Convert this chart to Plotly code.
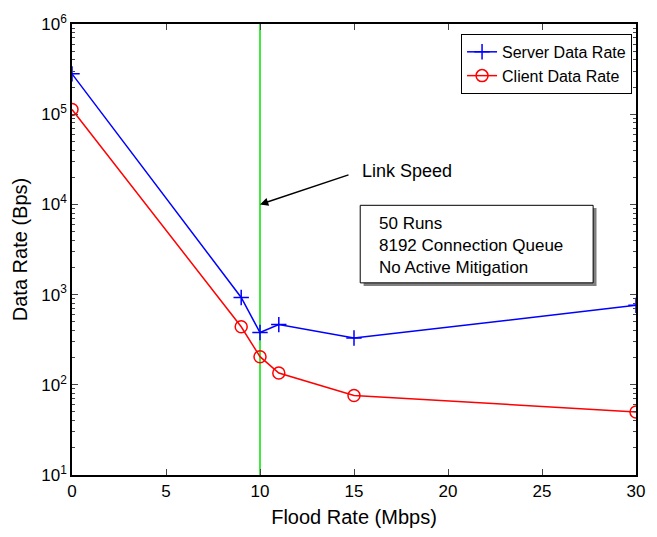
import plotly.graph_objects as go

flood_rate = [0, 9, 10, 11, 15, 30]
server_rate = [280000, 930, 380, 465, 330, 760]
client_rate = [113000, 440, 205, 135, 76, 50]
link_speed = 10
ytick_vals = [10, 100, 1000, 10000, 100000, 1000000]
ytick_text = ["10<sup>1</sup>", "10<sup>2</sup>", "10<sup>3</sup>", "10<sup>4</sup>", "10<sup>5</sup>", "10<sup>6</sup>"]
xtick_vals = [0, 5, 10, 15, 20, 25, 30]
minor_mult = [2, 3, 4, 5, 6, 7, 8, 9]
box_lines = ["50 Runs", "8192 Connection Queue", "No Active Mitigation"]

minor_vals = [m * d for d in ytick_vals[:-1] for m in minor_mult]

FONT = "Liberation Sans, Arial, sans-serif"

fig = go.Figure()
fig.add_trace(go.Scatter(
    x=[link_speed, link_speed], y=[10, 1000000], mode="lines",
    line=dict(color="#00e000", width=1.5), showlegend=False, hoverinfo="skip"))
fig.add_trace(go.Scatter(
    x=flood_rate, y=server_rate, mode="lines+markers", name="Server Data Rate",
    line=dict(color="#0000ff", width=1.5),
    marker=dict(symbol="cross-thin-open", size=11, line=dict(color="#0000ff", width=1.5))))
fig.add_trace(go.Scatter(
    x=flood_rate, y=client_rate, mode="lines+markers", name="Client Data Rate",
    line=dict(color="#ff0000", width=1.5),
    marker=dict(symbol="circle-open", size=12, line=dict(color="#ff0000", width=1.5))))
# invisible trace on overlay axis carrying minor ticks
fig.add_trace(go.Scatter(x=[None], y=[None], yaxis="y2", showlegend=False, hoverinfo="skip"))

# text box with shadow
fig.add_shape(type="rect", xref="paper", yref="paper", x0=0.517, x1=0.930, y0=0.419, y1=0.592,
              fillcolor="#808080", line=dict(width=0), layer="above")
fig.add_shape(type="rect", xref="paper", yref="paper", x0=0.511, x1=0.924, y0=0.426, y1=0.598,
              fillcolor="white", line=dict(color="black", width=1), layer="above")
fig.add_annotation(xref="paper", yref="paper", x=0.541, y=0.508, xanchor="left", yanchor="middle",
                   text="<br>".join(box_lines), showarrow=False, align="left",
                   font=dict(family=FONT, size=17, color="black"))

# link speed arrow and label
fig.add_annotation(x=link_speed, y=4, xref="x", yref="y", text="", showarrow=True,
                   arrowhead=2, arrowsize=1.1, arrowwidth=1.5, arrowcolor="black",
                   ax=90, ay=-30)
fig.add_annotation(x=link_speed, y=4, xref="x", yref="y", text="Link Speed", showarrow=False,
                   xanchor="left", yanchor="middle", xshift=100, yshift=33,
                   font=dict(family=FONT, size=18, color="black"))

fig.update_layout(
    width=657, height=537,
    margin=dict(l=72, r=16, t=22, b=60),
    paper_bgcolor="white", plot_bgcolor="white",
    font=dict(family=FONT, size=17, color="black"),
    legend=dict(x=0.993, y=0.978, xanchor="right", yanchor="top",
                bordercolor="black", borderwidth=1, bgcolor="white",
                font=dict(family=FONT, size=16), tracegroupgap=0, itemwidth=30),
    showlegend=True,
    yaxis2=dict(type="log", range=[1, 6], overlaying="y", anchor="x", side="left",
                tickvals=minor_vals, showticklabels=False, ticks="inside", ticklen=3,
                showline=True, linecolor="black", linewidth=1.5, mirror="ticks",
                showgrid=False, zeroline=False),
)
fig.update_xaxes(range=[0, 30], tickvals=xtick_vals, ticks="inside", ticklen=6,
                 showline=True, linecolor="black", linewidth=1.5, mirror="ticks",
                 showgrid=False, zeroline=False,
                 title=dict(text="Flood Rate (Mbps)", font=dict(size=20), standoff=10),
                 tickfont=dict(size=17))
fig.layout.yaxis.update(type="log", range=[1, 6], tickvals=ytick_vals, ticktext=ytick_text,
                        ticks="inside", ticklen=6,
                        showline=True, linecolor="black", linewidth=1.5, mirror="ticks",
                        showgrid=False, zeroline=False,
                        title=dict(text="Data Rate (Bps)", font=dict(size=20), standoff=8),
                        tickfont=dict(size=17))

fig.write_html("out.html")
